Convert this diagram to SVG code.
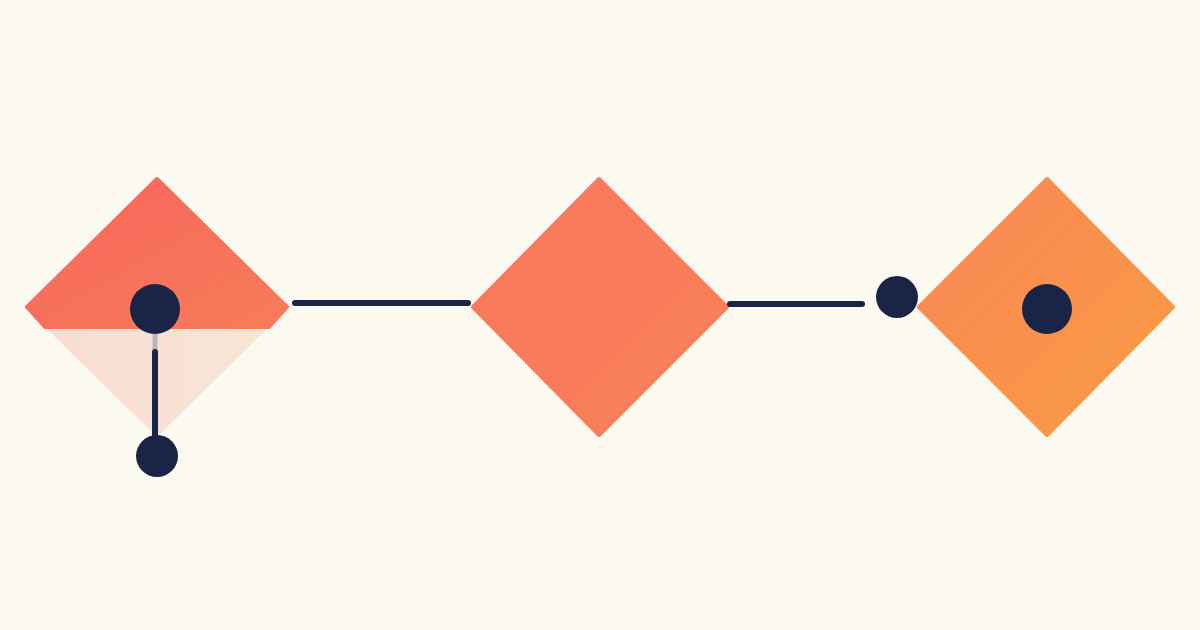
<svg xmlns="http://www.w3.org/2000/svg" width="1200" height="630" viewBox="0 0 1200 630">
<defs>
<linearGradient id="gLeft" x1="0" y1="0" x2="1" y2="1">
<stop offset="0" stop-color="#F9655E"/>
<stop offset="1" stop-color="#F67C58"/>
</linearGradient>
<linearGradient id="gPale" x1="0" y1="0" x2="1" y2="0">
<stop offset="0" stop-color="#F9DCD3"/>
<stop offset="1" stop-color="#F7E6D6"/>
</linearGradient>
<linearGradient id="gMid" x1="0" y1="0" x2="1" y2="1">
<stop offset="0" stop-color="#F9775D"/>
<stop offset="1" stop-color="#F88058"/>
</linearGradient>
<linearGradient id="gRight" x1="0" y1="0" x2="1" y2="1">
<stop offset="0" stop-color="#F98657"/>
<stop offset="1" stop-color="#F99D42"/>
</linearGradient>
<style>
.link{stroke:#1A2447;stroke-width:6;stroke-linecap:round;fill:none}
.dot{fill:#1A2447}
.dia{stroke-linejoin:round;stroke-width:4}
</style>
</defs>
<rect width="1200" height="630" fill="#FCF9F1"/>
<g id="node-left">
<polygon points="157,437 45,327 269,327" fill="url(#gPale)"/>
<polygon class="dia" points="157,179 27,307 45,327 269,327 287,307" fill="url(#gLeft)" stroke="url(#gLeft)"/>
<circle class="dot" cx="155" cy="309" r="25"/>
<circle class="dot" cx="157" cy="456" r="21"/>
</g>
<g id="node-middle">
<polygon class="dia" points="599,179 727,307 599,435 473,307" fill="url(#gMid)" stroke="url(#gMid)"/>
</g>
<g id="node-right">
<circle class="dot" cx="897" cy="297" r="21"/>
<polygon class="dia" points="1047,179 1173,307 1047,435 919,307" fill="url(#gRight)" stroke="url(#gRight)"/>
<circle class="dot" cx="1047" cy="309" r="25"/>
</g>
<g id="connectors">
<line class="link" x1="295" y1="303" x2="468" y2="303"/>
<line class="link" x1="730" y1="304" x2="862" y2="304"/>
<line x1="155" y1="334" x2="155" y2="350" stroke="#B9B7B8" stroke-width="5"/>
<line class="link" x1="155" y1="352" x2="155" y2="440" stroke-width="5"/>
</g>
</svg>
